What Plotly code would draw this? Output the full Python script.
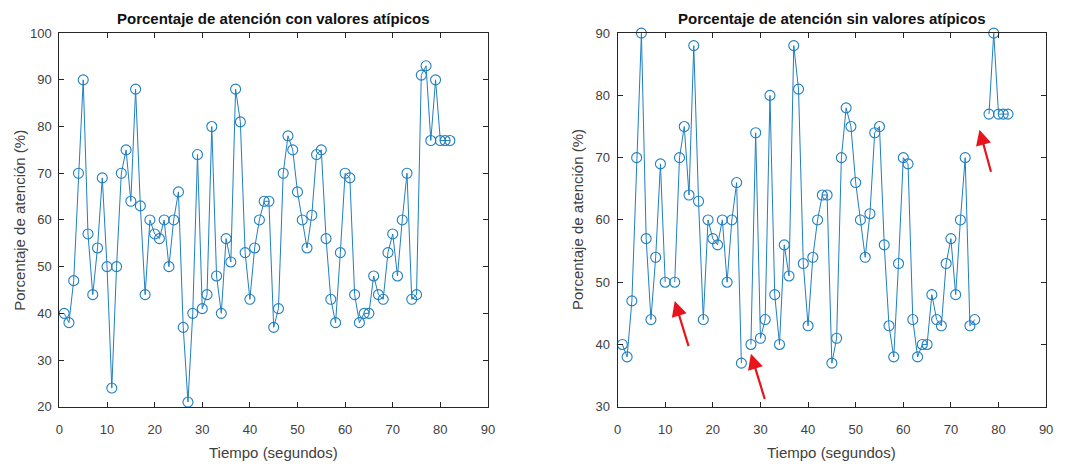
import plotly.graph_objects as go

# Tiempo en segundos (una muestra por segundo)
tiempo = list(range(1, 83))

# Porcentaje de atención registrado, incluidos los valores atípicos
atencion_con_atipicos = [
    40, 38, 47, 70, 90, 57, 44, 54, 69, 50,
    24, 50, 70, 75, 64, 88, 63, 44, 60, 57,
    56, 60, 50, 60, 66, 37, 21, 40, 74, 41,
    44, 80, 48, 40, 56, 51, 88, 81, 53, 43,
    54, 60, 64, 64, 37, 41, 70, 78, 75, 66,
    60, 54, 61, 74, 75, 56, 43, 38, 53, 70,
    69, 44, 38, 40, 40, 48, 44, 43, 53, 57,
    48, 60, 70, 43, 44, 91, 93, 77, 90, 77,
    77, 77,
]

# Segundos cuyos valores se consideran atípicos y se eliminan
segundos_atipicos = [11, 27, 76, 77]

atencion_sin_atipicos = [
    None if t in segundos_atipicos else v
    for t, v in zip(tiempo, atencion_con_atipicos)
]

x_ticks = [0, 10, 20, 30, 40, 50, 60, 70, 80, 90]
y_ticks_con = [20, 30, 40, 50, 60, 70, 80, 90, 100]
y_ticks_sin = [30, 40, 50, 60, 70, 80, 90]

titulo_con = "Porcentaje de atención con valores atípicos"
titulo_sin = "Porcentaje de atención sin valores atípicos"

W, H = 1065, 467
LINE_COLOR = "#1f7fc0"
AXIS_COLOR = "#262626"
FONT = "Liberation Sans, Arial, sans-serif"

fig = go.Figure()

serie_style = dict(
    mode="lines+markers",
    line=dict(color=LINE_COLOR, width=1),
    marker=dict(symbol="circle-open", size=10, color=LINE_COLOR,
                line=dict(width=1.1, color=LINE_COLOR)),
    connectgaps=False,
    showlegend=False,
    cliponaxis=False,
)

fig.add_trace(go.Scatter(x=tiempo, y=atencion_con_atipicos,
                         xaxis="x", yaxis="y", **serie_style))
fig.add_trace(go.Scatter(x=tiempo, y=atencion_sin_atipicos,
                         xaxis="x2", yaxis="y2", **serie_style))

# Plot areas in pixels: (left, right, top, bottom)
left_box = (56, 489, 27, 413)
right_box = (620, 1053, 27, 413)


def dom_x(box):
    return [box[0] / W, box[1] / W]


def dom_y(box):
    return [1 - box[3] / H, 1 - box[2] / H]


axis_common = dict(
    showline=True, linecolor=AXIS_COLOR, linewidth=1,
    mirror="ticks", ticks="inside", ticklen=5, tickwidth=1,
    tickcolor=AXIS_COLOR, showgrid=False, zeroline=False,
    tickfont=dict(family=FONT, size=13, color="#404040"),
)
x_extra = dict(ticklabelstandoff=11)
y_extra = dict(ticklabelstandoff=4)

fig.update_layout(
    width=W, height=H,
    margin=dict(l=0, r=0, t=0, b=0),
    paper_bgcolor="white", plot_bgcolor="white",
    font=dict(family=FONT, color=AXIS_COLOR),
    xaxis=dict(domain=dom_x(left_box), range=[0, 90], tickvals=x_ticks,
               anchor="y", **axis_common, **x_extra),
    yaxis=dict(domain=dom_y(left_box), range=[20, 100], tickvals=y_ticks_con,
               anchor="x", **axis_common, **y_extra),
    xaxis2=dict(domain=dom_x(right_box), range=[0, 90], tickvals=x_ticks,
                anchor="y2", **axis_common, **x_extra),
    yaxis2=dict(domain=dom_y(right_box), range=[30, 90], tickvals=y_ticks_sin,
                anchor="x2", **axis_common, **y_extra),
)

annotations = []
for box, titulo in [(left_box, titulo_con), (right_box, titulo_sin)]:
    cx = (box[0] + box[1]) / 2 / W
    annotations.append(dict(
        text=f"<b>{titulo}</b>", x=cx, y=1 - 12 / H, xref="paper", yref="paper",
        showarrow=False, xanchor="center", yanchor="middle",
        font=dict(family=FONT, size=15, color="#111111")))
    annotations.append(dict(
        text="Tiempo (segundos)", x=cx, y=1 - 460 / H, xref="paper", yref="paper",
        showarrow=False, xanchor="center", yanchor="middle",
        font=dict(family=FONT, size=15, color="#404040")))
    annotations.append(dict(
        text="Porcentaje de atención (%)", x=(box[0] - 40) / W,
        y=1 - ((box[2] + box[3]) / 2) / H, xref="paper", yref="paper",
        showarrow=False, textangle=-90, xanchor="center", yanchor="middle",
        font=dict(family=FONT, size=15, color="#404040")))

# Red arrows marking where the outliers were removed (right panel)
flechas = [((15, 39.5), (12, 47)), ((31, 31), (28, 38.5)), ((78.5, 67.5), (76, 74.5))]
for (x0, y0), (x1, y1) in flechas:
    annotations.append(dict(
        x=x1, y=y1, ax=x0, ay=y0, xref="x2", yref="y2", axref="x2", ayref="y2",
        text="", showarrow=True, arrowhead=2, arrowsize=1.4, arrowwidth=2.2,
        arrowcolor="#E8141B"))

fig.update_layout(annotations=annotations)

fig.write_html("out.html")
